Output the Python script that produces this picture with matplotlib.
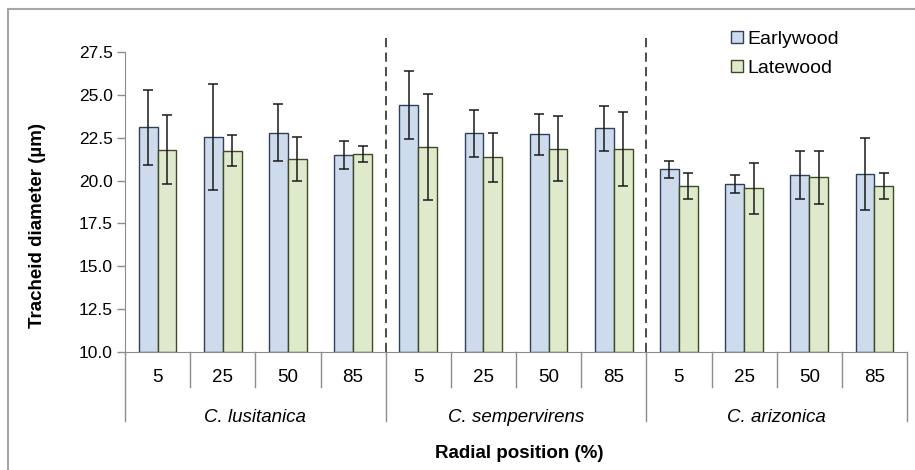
import matplotlib.pyplot as plt
import numpy as np
from matplotlib.patches import Rectangle
from matplotlib.transforms import blended_transform_factory

plt.rcParams["font.family"] = ["Liberation Sans", "DejaVu Sans"]

species = ["C. lusitanica", "C. sempervirens", "C. arizonica"]
positions = ["5", "25", "50", "85"]

early_mean = [23.1, 22.55, 22.8, 21.5, 24.4, 22.75, 22.7, 23.05, 20.65, 19.8, 20.35, 20.4]
early_err = [2.2, 3.1, 1.65, 0.8, 2.0, 1.35, 1.2, 1.3, 0.5, 0.55, 1.4, 2.1]
late_mean = [21.8, 21.75, 21.25, 21.55, 21.95, 21.35, 21.85, 21.85, 19.7, 19.55, 20.2, 19.7]
late_err = [2.0, 0.9, 1.3, 0.45, 3.1, 1.45, 1.9, 2.15, 0.75, 1.5, 1.55, 0.75]

E_FACE, E_EDGE = "#cddbec", "#2f405c"
L_FACE, L_EDGE = "#dfe9cb", "#3d4c25"
GRID = "#8c8c8c"
FS = 13.5

W, H = 915, 470
fig = plt.figure(figsize=(W / 100, H / 100), dpi=100)

# outer chart frame (runs off the right and bottom edges)
fig.patches.append(Rectangle((8 / W, -0.1), 1.2, (H - 9) / H + 0.1, transform=fig.transFigure,
                             fill=False, edgecolor="#a6a6a6", linewidth=1.5))

ymin, ymax = 10, 28.6
y0_px, yscale = 352, 300 / 17.5
top_px = y0_px - (ymax - ymin) * yscale
ax_h = y0_px - top_px
ax = fig.add_axes([125 / W, (H - y0_px) / H, (907 - 125) / W, ax_h / H])

n = len(early_mean)
x = np.arange(n)
bw = 0.29
ax.bar(x - bw / 2, np.array(early_mean) - ymin, bw, bottom=ymin, color=E_FACE, edgecolor=E_EDGE,
       linewidth=1.0, label="Earlywood")
ax.bar(x + bw / 2, np.array(late_mean) - ymin, bw, bottom=ymin, color=L_FACE, edgecolor=L_EDGE,
       linewidth=1.0, label="Latewood")
ax.errorbar(x - bw / 2, early_mean, yerr=early_err, fmt="none", ecolor="#1a1a1a", elinewidth=1.1,
            capsize=3.5, capthick=1.1)
ax.errorbar(x + bw / 2, late_mean, yerr=late_err, fmt="none", ecolor="#1a1a1a", elinewidth=1.1,
            capsize=3.5, capthick=1.1)

ax.set_xlim(-0.5, n - 0.5)
ax.set_ylim(ymin, ymax)
yt = np.arange(10, 27.6, 2.5)
ax.set_yticks(yt)
ax.set_yticklabels([f"{v:.1f}" for v in yt], fontsize=12.5)
ax.tick_params(axis="y", direction="out", length=6, color=GRID, width=1, pad=3)
ax.set_xticks([])
for s in ["top", "right"]:
    ax.spines[s].set_visible(False)
ax.spines["left"].set_bounds(10, 27.5)
ax.spines["left"].set_color(GRID)
ax.spines["bottom"].set_color(GRID)

# dashed species dividers
for b in [3.5, 7.5]:
    ax.axvline(b, ymin=0, ymax=(y0_px - 33) / ax_h, color="#1a1a1a", linestyle=(0, (6, 3.5)),
               linewidth=1.1, clip_on=False)

# two-level category axis
tr = blended_transform_factory(ax.transData, ax.transAxes)


def fy(px):
    return (y0_px - px) / ax_h


for i in range(n + 1):
    low = 421 if i % 4 == 0 else 387
    ax.plot([i - 0.5, i - 0.5], [0, fy(low)], transform=tr, color=GRID, lw=1, clip_on=False)
for i in range(n):
    ax.text(i, fy(377), positions[i % 4], transform=tr, ha="center", va="center", fontsize=FS)
for g, name in enumerate(species):
    ax.text(g * 4 + 1.5, fy(417), name, transform=tr, ha="center", va="center", fontsize=FS,
            style="italic")

fig.text(519 / W, (H - 453) / H, "Radial position (%)", ha="center", va="center", fontsize=FS,
         weight="bold")
fig.text(38 / W, (H - 225) / H, "Tracheid diameter (\u00b5m)", ha="center", va="center",
         fontsize=FS, weight="bold", rotation=90)

ax.legend(loc="upper left", bbox_to_anchor=(731 / W, (H - 31) / H), bbox_transform=fig.transFigure,
          frameon=False, fontsize=14, handlelength=0.6, handleheight=0.6, handletextpad=0.25,
          labelspacing=0.6, borderpad=0, borderaxespad=0)

fig.savefig("out.png", dpi=100, facecolor="white")
